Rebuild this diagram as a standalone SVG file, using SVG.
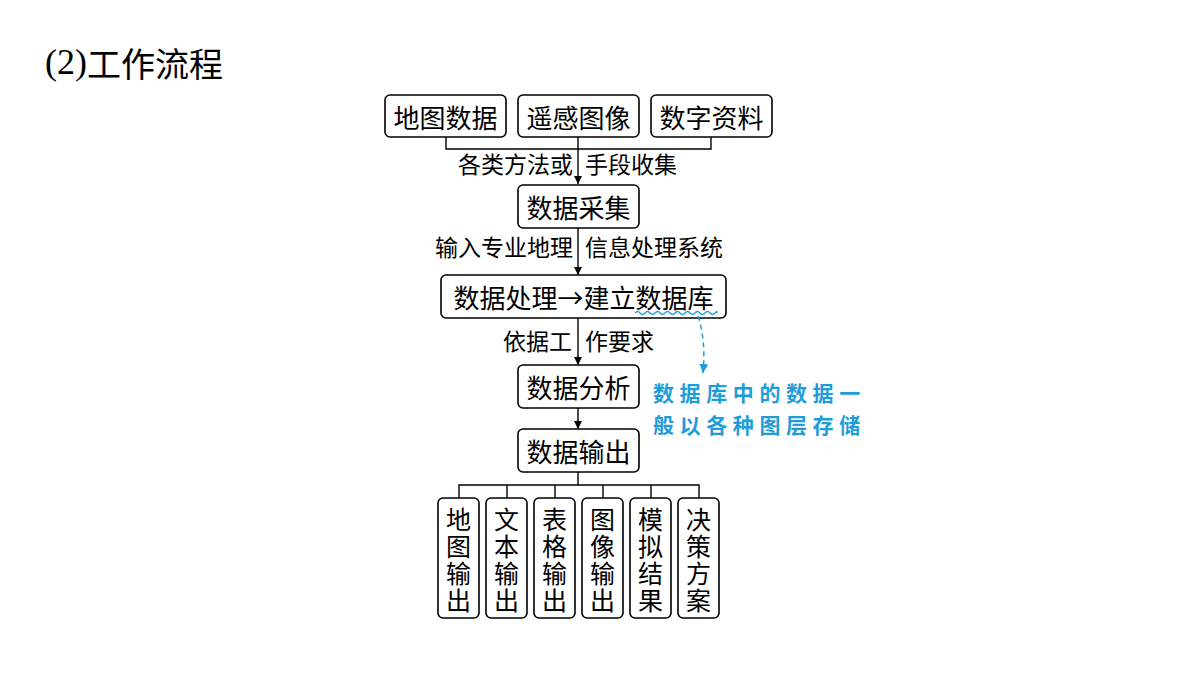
<svg xmlns="http://www.w3.org/2000/svg" width="1200" height="675" viewBox="0 0 1200 675">
<style>
.box{fill:#fff;stroke:#000;stroke-width:1.6}
.t{font-family:"Noto Sans CJK SC","Noto Sans",sans-serif;font-size:26px;fill:#000;text-anchor:middle;dominant-baseline:central}
.v{font-family:"Noto Sans CJK SC","Noto Sans",sans-serif;font-size:25px;fill:#000;writing-mode:vertical-rl;letter-spacing:2px}
.l{font-family:"Noto Sans CJK SC","Noto Sans",sans-serif;font-size:23px;fill:#000;dominant-baseline:central}
.ln{fill:none;stroke:#000;stroke-width:1.4}
.blue{font-family:"Noto Sans CJK SC",sans-serif;font-size:21px;font-weight:700;fill:#1f9dd9;letter-spacing:5.6px;dominant-baseline:central}
</style>
<defs>
<marker id="ah" viewBox="0 0 10 10" refX="10" refY="5" markerWidth="8" markerHeight="8" markerUnits="userSpaceOnUse" orient="auto">
<path d="M0,0 L10,5 L0,10 Z" fill="#000"/>
</marker>
<marker id="bh" viewBox="0 0 10 10" refX="10" refY="5" markerWidth="9" markerHeight="9" markerUnits="userSpaceOnUse" orient="auto">
<path d="M0,0 L10,5 L0,10 Z" fill="#1f9dd9"/>
</marker>
</defs>
<rect width="1200" height="675" fill="#fff"/>
<g id="title">
<text x="45" y="62" dominant-baseline="central"><tspan font-family="Liberation Serif,serif" font-size="36">(2)</tspan><tspan font-family="Noto Sans CJK SC,sans-serif" font-size="34">工作流程</tspan></text>
</g>
<g id="connectors">
<path class="ln" d="M446,137 V149 H711 V137"/>
<path class="ln" d="M578,137 V184" marker-end="url(#ah)"/>
<path class="ln" d="M578,228 V275" marker-end="url(#ah)"/>
<path class="ln" d="M578,318 V365" marker-end="url(#ah)"/>
<path class="ln" d="M578,408 V429" marker-end="url(#ah)"/>
<path class="ln" d="M578,472 V485 M459,498 V485 H699 V498 M507,485 V498 M555,485 V498 M603,485 V498 M651,485 V498"/>
<text class="l" x="573" y="163" text-anchor="end">各类方法或</text>
<text class="l" x="585" y="163">手段收集</text>
<text class="l" x="573" y="246" text-anchor="end">输入专业地理</text>
<text class="l" x="585" y="246">信息处理系统</text>
<text class="l" x="572" y="340" text-anchor="end">依据工</text>
<text class="l" x="585" y="340">作要求</text>
</g>
<g id="n1"><rect class="box" x="385" y="95" width="121" height="42" rx="5"/><text class="t" x="445.5" y="116">地图数据</text></g>
<g id="n2"><rect class="box" x="518" y="95" width="121" height="42" rx="5"/><text class="t" x="578.5" y="116">遥感图像</text></g>
<g id="n3"><rect class="box" x="651" y="95" width="121" height="42" rx="5"/><text class="t" x="711.5" y="116">数字资料</text></g>
<g id="n4"><rect class="box" x="518" y="185" width="121" height="43" rx="5"/><text class="t" x="578.5" y="206">数据采集</text></g>
<g id="n5"><rect class="box" x="441" y="275" width="285" height="43" rx="5"/><text class="t" x="583.5" y="296">数据处理→建立数据库</text></g>
<g id="n6"><rect class="box" x="518" y="365" width="121" height="43" rx="5"/><text class="t" x="578.5" y="386">数据分析</text></g>
<g id="n7"><rect class="box" x="518" y="429" width="121" height="43" rx="5"/><text class="t" x="578.5" y="450">数据输出</text></g>
<g id="o1"><rect class="box" x="438" y="498" width="41" height="120" rx="5"/><text class="v" x="458.5" y="507">地图输出</text></g>
<g id="o2"><rect class="box" x="486" y="498" width="41" height="120" rx="5"/><text class="v" x="506.5" y="507">文本输出</text></g>
<g id="o3"><rect class="box" x="534" y="498" width="41" height="120" rx="5"/><text class="v" x="554.5" y="507">表格输出</text></g>
<g id="o4"><rect class="box" x="582" y="498" width="41" height="120" rx="5"/><text class="v" x="602.5" y="507">图像输出</text></g>
<g id="o5"><rect class="box" x="630" y="498" width="41" height="120" rx="5"/><text class="v" x="650.5" y="507">模拟结果</text></g>
<g id="o6"><rect class="box" x="678" y="498" width="41" height="120" rx="5"/><text class="v" x="698.5" y="507">决策方案</text></g>
<g id="note">
<path d="M635,313 q2.5,-3 5,0 t5,0 t5,0 t5,0 t5,0 t5,0 t5,0 t5,0 t5,0 t5,0 t5,0 t5,0 t5,0 t5,0 t5,0 t5,0 t2,0" fill="none" stroke="#1f9dd9" stroke-width="1.3"/>
<path d="M698,316 Q706,340 703,373" fill="none" stroke="#1f9dd9" stroke-width="1.5" stroke-dasharray="5,4" marker-end="url(#bh)"/>
<text class="blue" x="653" y="392">数据库中的数据一</text>
<text class="blue" x="653" y="424">般以各种图层存储</text>
</g>
</svg>
